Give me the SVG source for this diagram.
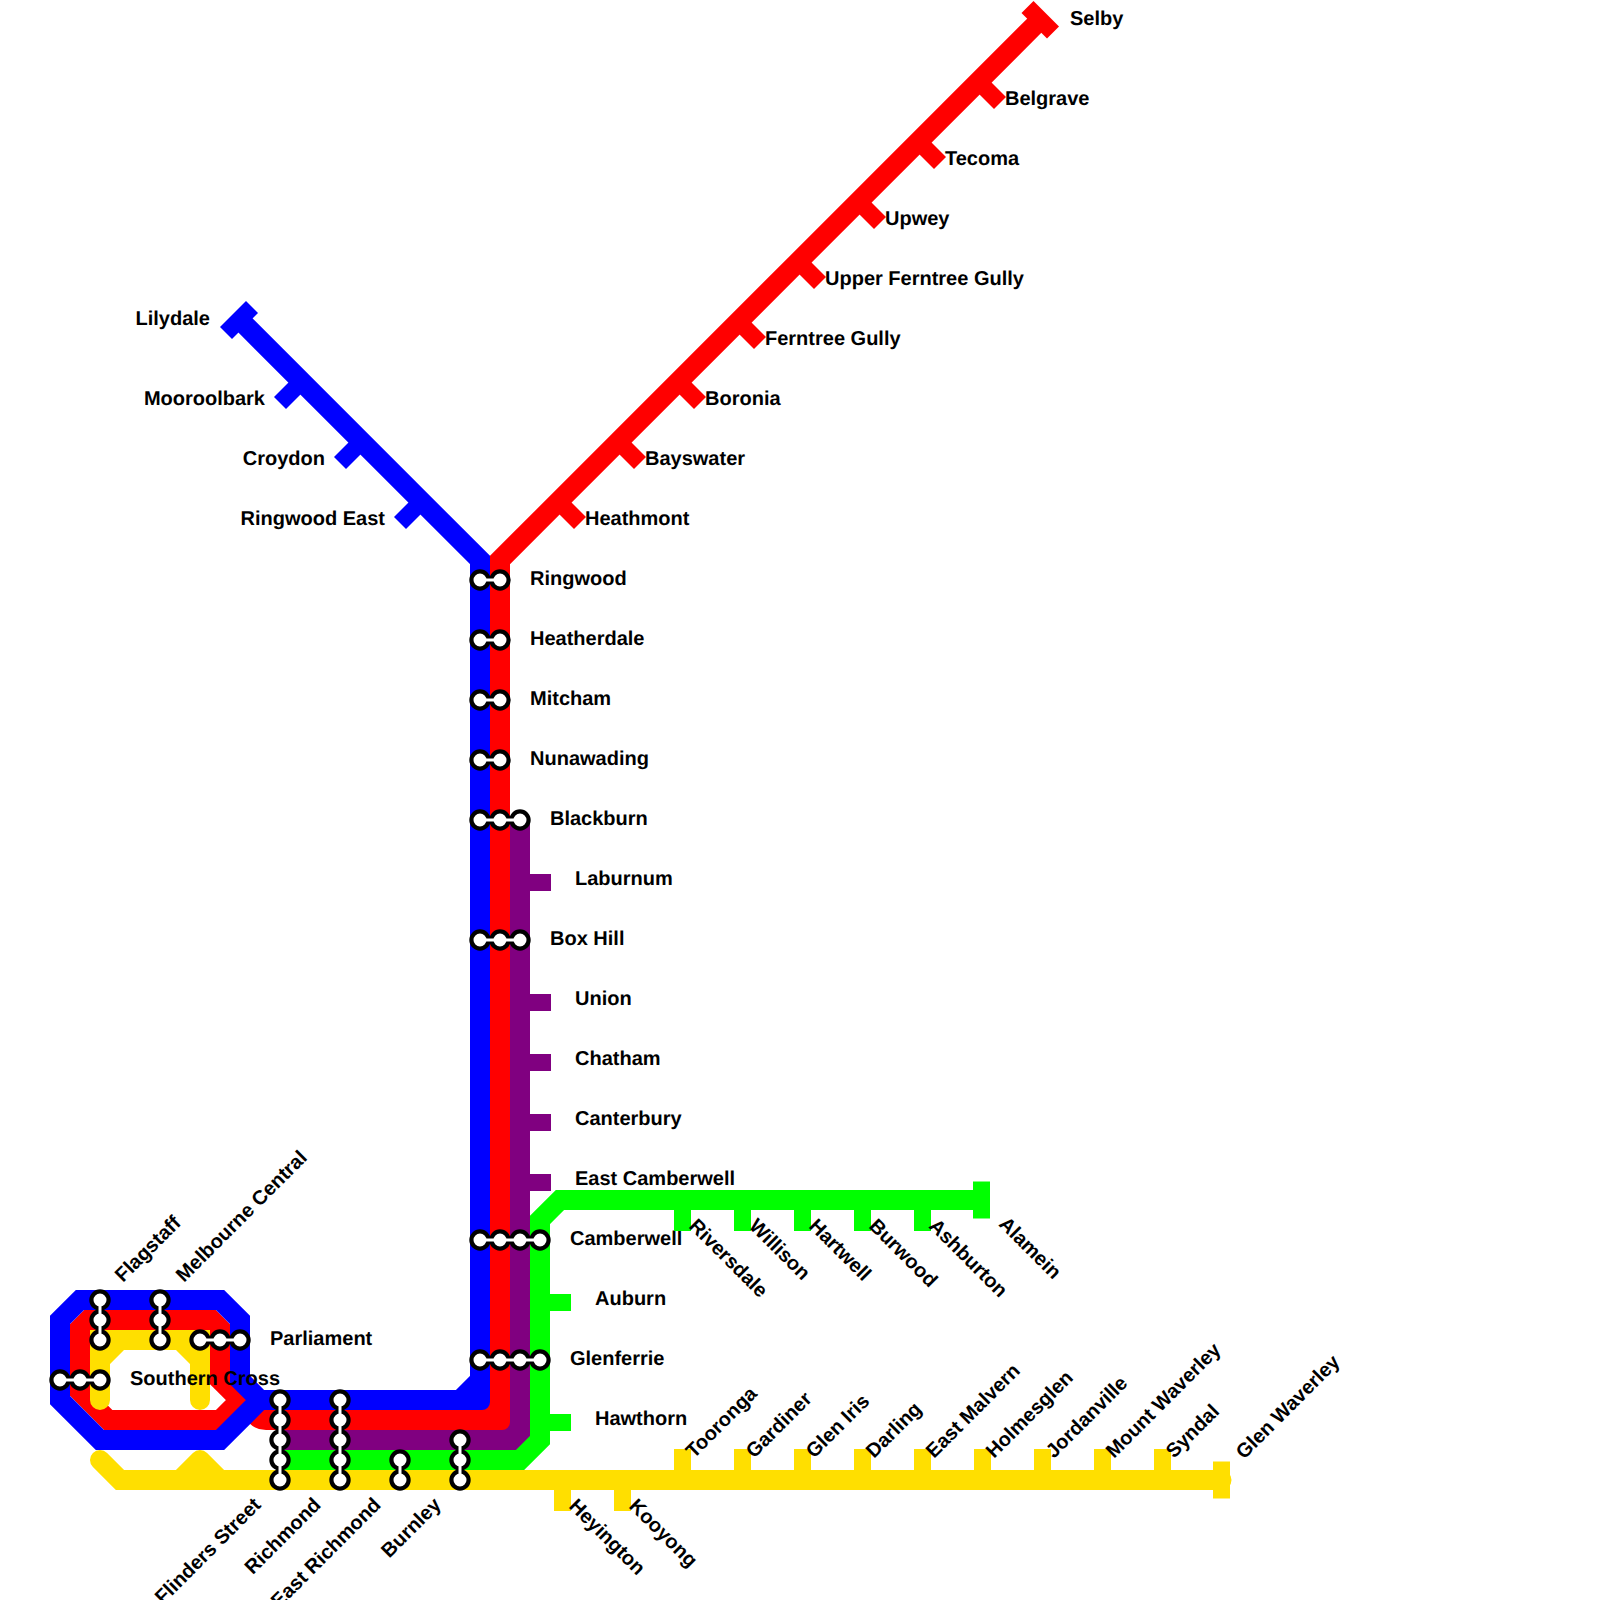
<svg xmlns="http://www.w3.org/2000/svg" width="1600" height="1600" viewBox="0 0 1600 1600">
<style>
text{font-family:"Liberation Sans",Arial,sans-serif;font-size:20px;font-weight:bold;fill:#000;text-rendering:geometricPrecision}
.e{text-anchor:end}
.l{fill:none;stroke-width:20;stroke-linejoin:miter;stroke-miterlimit:10}
.t{fill:none;stroke-width:17}
.red{stroke:#f00}.blue{stroke:#00f}.purple{stroke:#800080}.green{stroke:#0f0}.yellow{stroke:#ffdf00}
.ib{fill:none;stroke:#000;stroke-width:8}
.iw{fill:none;stroke:#fff;stroke-width:3}
.c{fill:#fff;stroke:#000;stroke-width:4.2}
</style>
<defs>
<circle id="s" r="8.6" class="c"/>
</defs>
<g id="connectors">
<path id="line-yellow" class="l yellow" stroke-linecap="round" d="M100,1460L120,1480H1221.5"/>
<path id="line-yellow-bump" class="l yellow" style="stroke-linejoin:round" d="M180,1480L200,1460L220,1480"/>
<path id="line-red" class="l red" d="M1040,20L500,560V1420H266Q260,1420 255.8,1415.8L220,1380V1328.3L211.7,1320H88.3L80,1328.3V1391.7L108.3,1420H220L240,1400"/>
<path id="line-yellow-loop" fill="#ffdf00" d="M90,1400V1330H210V1400A10,10 0 0 1 190,1400V1364L176,1350H124L110,1364V1400A10,10 0 0 1 90,1400Z"/>
<path id="line-blue" class="l blue" d="M240,320L480,560V1380L460,1400H260L240,1380V1320L220,1300H80L60,1320V1400L100,1440H220L260,1400"/>
<path id="corner-blue" fill="#00f" d="M490,1380V1410H460Z"/>
<path id="fillet-red" fill="#f00" d="M490,1402A8,8 0 0 1 482,1410H490Z"/>
<path id="line-purple" class="l purple" d="M520,820V1440H280"/>
<path id="fillet-purple" fill="#800080" d="M510,1422A8,8 0 0 1 502,1430H510Z"/>
<path id="line-green" class="l green" d="M981.5,1200H560L540,1220V1440L520,1460H280"/>
</g>
<g id="n-lilydale"><path class="t blue" d="M226,333L252,307"/><text class="e" x="210" y="325">Lilydale</text></g>
<g id="n-mooroolbark"><path class="t blue" d="M301.5,381.5L280,403"/><text class="e" x="265" y="405">Mooroolbark</text></g>
<g id="n-croydon"><path class="t blue" d="M361.5,441.5L340,463"/><text class="e" x="325" y="465">Croydon</text></g>
<g id="n-ringwood-east"><path class="t blue" d="M421.5,501.5L400,523"/><text class="e" x="385" y="525">Ringwood East</text></g>
<g id="n-selby"><path class="t red" d="M1027.5,7L1053,32.5"/><text x="1070" y="25">Selby</text></g>
<g id="n-belgrave"><path class="t red" d="M978.5,81.5L1000,103"/><text x="1005" y="105">Belgrave</text></g>
<g id="n-tecoma"><path class="t red" d="M918.5,141.5L940,163"/><text x="945" y="165">Tecoma</text></g>
<g id="n-upwey"><path class="t red" d="M858.5,201.5L880,223"/><text x="885" y="225">Upwey</text></g>
<g id="n-upper-ferntree-gully"><path class="t red" d="M798.5,261.5L820,283"/><text x="825" y="285">Upper Ferntree Gully</text></g>
<g id="n-ferntree-gully"><path class="t red" d="M738.5,321.5L760,343"/><text x="765" y="345">Ferntree Gully</text></g>
<g id="n-boronia"><path class="t red" d="M678.5,381.5L700,403"/><text x="705" y="405">Boronia</text></g>
<g id="n-bayswater"><path class="t red" d="M618.5,441.5L640,463"/><text x="645" y="465">Bayswater</text></g>
<g id="n-heathmont"><path class="t red" d="M558.5,501.5L580,523"/><text x="585" y="525">Heathmont</text></g>
<g id="n-ringwood"><path class="ib" d="M480,580H500"/><use href="#s" x="480" y="580"/><use href="#s" x="500" y="580"/><path class="iw" d="M480,580H500"/><text x="530" y="585">Ringwood</text></g>
<g id="n-heatherdale"><path class="ib" d="M480,640H500"/><use href="#s" x="480" y="640"/><use href="#s" x="500" y="640"/><path class="iw" d="M480,640H500"/><text x="530" y="645">Heatherdale</text></g>
<g id="n-mitcham"><path class="ib" d="M480,700H500"/><use href="#s" x="480" y="700"/><use href="#s" x="500" y="700"/><path class="iw" d="M480,700H500"/><text x="530" y="705">Mitcham</text></g>
<g id="n-nunawading"><path class="ib" d="M480,760H500"/><use href="#s" x="480" y="760"/><use href="#s" x="500" y="760"/><path class="iw" d="M480,760H500"/><text x="530" y="765">Nunawading</text></g>
<g id="n-blackburn"><path class="ib" d="M480,820H520"/><use href="#s" x="480" y="820"/><use href="#s" x="500" y="820"/><use href="#s" x="520" y="820"/><path class="iw" d="M480,820H520"/><text x="550" y="825">Blackburn</text></g>
<g id="n-laburnum"><path class="t purple" d="M520,882.5H551"/><text x="575" y="885">Laburnum</text></g>
<g id="n-box-hill"><path class="ib" d="M480,940H520"/><use href="#s" x="480" y="940"/><use href="#s" x="500" y="940"/><use href="#s" x="520" y="940"/><path class="iw" d="M480,940H520"/><text x="550" y="945">Box Hill</text></g>
<g id="n-union"><path class="t purple" d="M520,1002.5H551"/><text x="575" y="1005">Union</text></g>
<g id="n-chatham"><path class="t purple" d="M520,1062.5H551"/><text x="575" y="1065">Chatham</text></g>
<g id="n-canterbury"><path class="t purple" d="M520,1122.5H551"/><text x="575" y="1125">Canterbury</text></g>
<g id="n-east-camberwell"><path class="t purple" d="M520,1182.5H551"/><text x="575" y="1185">East Camberwell</text></g>
<g id="n-camberwell"><path class="ib" d="M480,1240H540"/><use href="#s" x="480" y="1240"/><use href="#s" x="500" y="1240"/><use href="#s" x="520" y="1240"/><use href="#s" x="540" y="1240"/><path class="iw" d="M480,1240H540"/><text x="570" y="1245">Camberwell</text></g>
<g id="n-auburn"><path class="t green" d="M540,1302.5H571"/><text x="595" y="1305">Auburn</text></g>
<g id="n-glenferrie"><path class="ib" d="M480,1360H540"/><use href="#s" x="480" y="1360"/><use href="#s" x="500" y="1360"/><use href="#s" x="520" y="1360"/><use href="#s" x="540" y="1360"/><path class="iw" d="M480,1360H540"/><text x="570" y="1365">Glenferrie</text></g>
<g id="n-hawthorn"><path class="t green" d="M540,1422.5H571"/><text x="595" y="1425">Hawthorn</text></g>
<g id="n-riversdale"><path class="t green" d="M682.5,1200V1231"/><text transform="translate(688,1227) rotate(45)">Riversdale</text></g>
<g id="n-willison"><path class="t green" d="M742.5,1200V1231"/><text transform="translate(748,1227) rotate(45)">Willison</text></g>
<g id="n-hartwell"><path class="t green" d="M802.5,1200V1231"/><text transform="translate(808,1227) rotate(45)">Hartwell</text></g>
<g id="n-burwood"><path class="t green" d="M862.5,1200V1231"/><text transform="translate(868,1227) rotate(45)">Burwood</text></g>
<g id="n-ashburton"><path class="t green" d="M922.5,1200V1231"/><text transform="translate(928,1227) rotate(45)">Ashburton</text></g>
<g id="n-alamein"><path class="t green" d="M981.5,1181.5V1218.5"/><text transform="translate(998,1225) rotate(45)">Alamein</text></g>
<g id="n-heyington"><path class="t yellow" d="M562.5,1480V1511"/><text transform="translate(568,1507) rotate(45)">Heyington</text></g>
<g id="n-kooyong"><path class="t yellow" d="M622.5,1480V1511"/><text transform="translate(628,1507) rotate(45)">Kooyong</text></g>
<g id="n-tooronga"><path class="t yellow" d="M682.5,1480V1449"/><text transform="translate(694,1459) rotate(-45)">Tooronga</text></g>
<g id="n-gardiner"><path class="t yellow" d="M742.5,1480V1449"/><text transform="translate(754,1459) rotate(-45)">Gardiner</text></g>
<g id="n-glen-iris"><path class="t yellow" d="M802.5,1480V1449"/><text transform="translate(814,1459) rotate(-45)">Glen Iris</text></g>
<g id="n-darling"><path class="t yellow" d="M862.5,1480V1449"/><text transform="translate(874,1459) rotate(-45)">Darling</text></g>
<g id="n-east-malvern"><path class="t yellow" d="M922.5,1480V1449"/><text transform="translate(934,1459) rotate(-45)">East Malvern</text></g>
<g id="n-holmesglen"><path class="t yellow" d="M982.5,1480V1449"/><text transform="translate(994,1459) rotate(-45)">Holmesglen</text></g>
<g id="n-jordanville"><path class="t yellow" d="M1042.5,1480V1449"/><text transform="translate(1054,1459) rotate(-45)">Jordanville</text></g>
<g id="n-mount-waverley"><path class="t yellow" d="M1102.5,1480V1449"/><text transform="translate(1114,1459) rotate(-45)">Mount Waverley</text></g>
<g id="n-syndal"><path class="t yellow" d="M1162.5,1480V1449"/><text transform="translate(1174,1459) rotate(-45)">Syndal</text></g>
<g id="n-glen-waverley"><path class="t yellow" d="M1221.5,1461.5V1498.5"/><text transform="translate(1244,1460) rotate(-45)">Glen Waverley</text></g>
<g id="n-flinders-street"><path class="ib" d="M280,1400V1480"/><use href="#s" x="280" y="1400"/><use href="#s" x="280" y="1420"/><use href="#s" x="280" y="1440"/><use href="#s" x="280" y="1460"/><use href="#s" x="280" y="1480"/><path class="iw" d="M280,1400V1480"/><text class="e" transform="translate(262,1506) rotate(-45)">Flinders Street</text></g>
<g id="n-richmond"><path class="ib" d="M340,1400V1480"/><use href="#s" x="340" y="1400"/><use href="#s" x="340" y="1420"/><use href="#s" x="340" y="1440"/><use href="#s" x="340" y="1460"/><use href="#s" x="340" y="1480"/><path class="iw" d="M340,1400V1480"/><text class="e" transform="translate(322,1506) rotate(-45)">Richmond</text></g>
<g id="n-east-richmond"><path class="ib" d="M400,1460V1480"/><use href="#s" x="400" y="1460"/><use href="#s" x="400" y="1480"/><path class="iw" d="M400,1460V1480"/><text class="e" transform="translate(382,1506) rotate(-45)">East Richmond</text></g>
<g id="n-burnley"><path class="ib" d="M460,1440V1480"/><use href="#s" x="460" y="1440"/><use href="#s" x="460" y="1460"/><use href="#s" x="460" y="1480"/><path class="iw" d="M460,1440V1480"/><text class="e" transform="translate(442,1506) rotate(-45)">Burnley</text></g>
<g id="n-flagstaff"><path class="ib" d="M100,1300V1340"/><use href="#s" x="100" y="1300"/><use href="#s" x="100" y="1320"/><use href="#s" x="100" y="1340"/><path class="iw" d="M100,1300V1340"/><text transform="translate(123,1283) rotate(-45)">Flagstaff</text></g>
<g id="n-melbourne-central"><path class="ib" d="M160,1300V1340"/><use href="#s" x="160" y="1300"/><use href="#s" x="160" y="1320"/><use href="#s" x="160" y="1340"/><path class="iw" d="M160,1300V1340"/><text transform="translate(184,1283) rotate(-45)">Melbourne Central</text></g>
<g id="n-parliament"><path class="ib" d="M200,1340H240"/><use href="#s" x="200" y="1340"/><use href="#s" x="220" y="1340"/><use href="#s" x="240" y="1340"/><path class="iw" d="M200,1340H240"/><text x="270" y="1345">Parliament</text></g>
<g id="n-southern-cross"><path class="ib" d="M60,1380H100"/><use href="#s" x="60" y="1380"/><use href="#s" x="80" y="1380"/><use href="#s" x="100" y="1380"/><path class="iw" d="M60,1380H100"/><text x="130" y="1385">Southern Cross</text></g>
</svg>
